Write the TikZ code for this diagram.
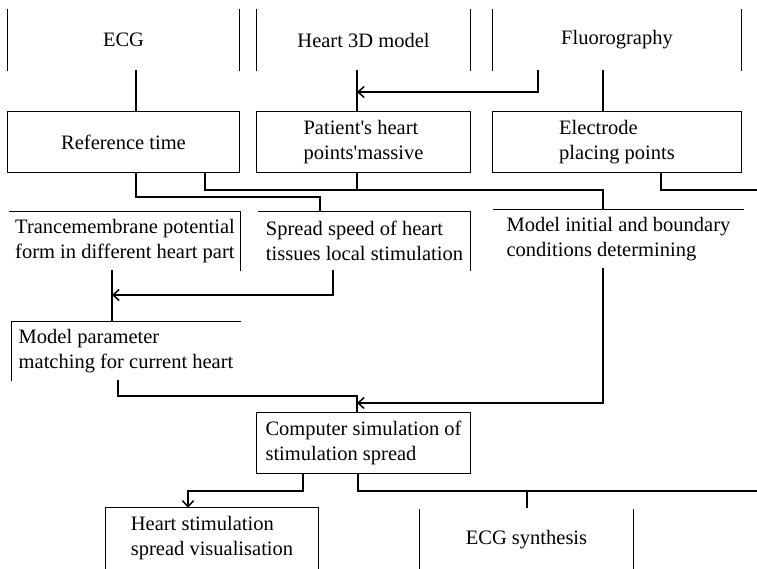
\documentclass[tikz,border=0pt]{standalone}
\usepackage{fontspec}
\setmainfont{Liberation Serif}
\usetikzlibrary{arrows.meta}
\begin{document}
\begin{tikzpicture}[x=1pt,y=-1pt,
  box/.style={rectangle, inner sep=0pt, font=\fontsize{20.5}{24.5}\selectfont, align=left},
  edge/.style={line width=1.2pt, line cap=rect},
  conn/.style={line width=1.8pt},
  arr/.style={conn,-{Straight Barb[length=6pt,width=11pt,line width=1.5pt]}}]
\useasboundingbox (0,0) rectangle (757,569);
% top row
\node[box, minimum width=231pt, minimum height=60pt] (ecg) at (123.5,40) {ECG};
\node[box, minimum width=213pt, minimum height=60pt] (heart3d) at (363.5,40) {Heart 3D model};
\node[box, minimum width=248pt, minimum height=60pt] (fluoro) at (617,40) {Fluorography};
% second row
\node[box, minimum width=231pt, minimum height=60pt] (ref) at (123.5,142) {Reference time};
\node[box, minimum width=213pt, minimum height=60pt] (patient) at (363.5,142) {Patient\textquotesingle s heart\\points\textquotesingle massive};
\node[box, minimum width=248pt, minimum height=60pt] (electrode) at (617,142) {Electrode\\placing points};
% third row
\node[box, minimum width=230pt, minimum height=58pt] (trans) at (125,241) {Trancemembrane potential\\form in different heart part};
\node[box, minimum width=211pt, minimum height=58pt] (spread) at (364.5,241) {Spread speed of heart\\tissues local stimulation};
\node[box, minimum width=249pt, minimum height=58pt] (modelinit) at (618.5,239) {Model initial and boundary\\conditions determining};
% fourth row
\node[box, minimum width=228pt, minimum height=58pt] (param) at (126,351) {Model parameter\\matching for current heart};
\node[box, minimum width=213pt, minimum height=60pt] (comp) at (363.5,443) {Computer simulation of\\stimulation spread};
% bottom row
\node[box, minimum width=212pt, minimum height=60pt] (vis) at (212,538) {Heart stimulation\\spread visualisation};
\node[box, minimum width=213pt, minimum height=59pt] (synth) at (526.5,539.5) {ECG synthesis};

% box edges
\draw[edge] (ecg.north west) -- (ecg.south west) (ecg.north east) -- (ecg.south east);
\draw[edge] (heart3d.north west) -- (heart3d.south west) (heart3d.north east) -- (heart3d.south east);
\draw[edge] (fluoro.north west) -- (fluoro.south west) (fluoro.north east) -- (fluoro.south east);
\draw[edge] (ref.north west) rectangle (ref.south east);
\draw[edge] (patient.north west) rectangle (patient.south east);
\draw[edge] (electrode.north west) rectangle (electrode.south east);
\draw[edge] (trans.north west) -- (trans.north east) -- (trans.south east);
\draw[edge] (spread.north west) -- (spread.north east) -- (spread.south east);
\draw[edge] (modelinit.north west) -- (modelinit.north east);
\draw[edge] (param.south west) -- (param.north west) -- (param.north east);
\draw[edge] (comp.north west) rectangle (comp.south east);
\draw[edge] (vis.south west) -- (vis.north west) -- (vis.north east) -- (vis.south east);
\draw[edge] (synth.north west) -- (synth.south west) (synth.north east) -- (synth.south east);

% junction coordinates
\coordinate (j1) at (357,92);
\coordinate (j2) at (357,190);
\coordinate (j3) at (112,295);
\coordinate (j4) at (357,403);
\coordinate (e1) at (757,190);
\coordinate (e2) at (757,491);
\coordinate (t1) at (527,491);

% connectors
\draw[conn] (ecg.south -| 136,0) -- (ref.north -| 136,0);
\draw[conn] (heart3d.south -| 357,0) -- (patient.north -| 357,0);
\draw[arr] (fluoro.south -| 538,0) |- (j1);
\draw[conn] (fluoro.south -| 603,0) -- (electrode.north -| 603,0);
\draw[conn] (ref.south -| 136,0) |- (320,197) -- (spread.north -| 320,0);
\draw[conn] (ref.south -| 205,0) |- (603,190) -- (modelinit.north -| 603,0);
\draw[conn] (patient.south -| 357,0) -- (j2);
\draw[conn] (electrode.south -| 661,0) |- (e1);
\draw[conn] (trans.south -| 112,0) -- (param.north -| 112,0);
\draw[arr] (spread.south -| 333,0) |- (j3);
\draw[conn] (param.south -| 118,0) |- (357,396) -- (comp.north -| 357,0);
\draw[arr] (modelinit.south -| 603,0) |- (j4);
\draw[arr] (comp.south -| 303,0) |- (188,491) -- (vis.north -| 188,0);
\draw[conn] (comp.south -| 358,0) |- (e2);
\draw[conn] (t1) -- (527,508);
\end{tikzpicture}
\end{document}
